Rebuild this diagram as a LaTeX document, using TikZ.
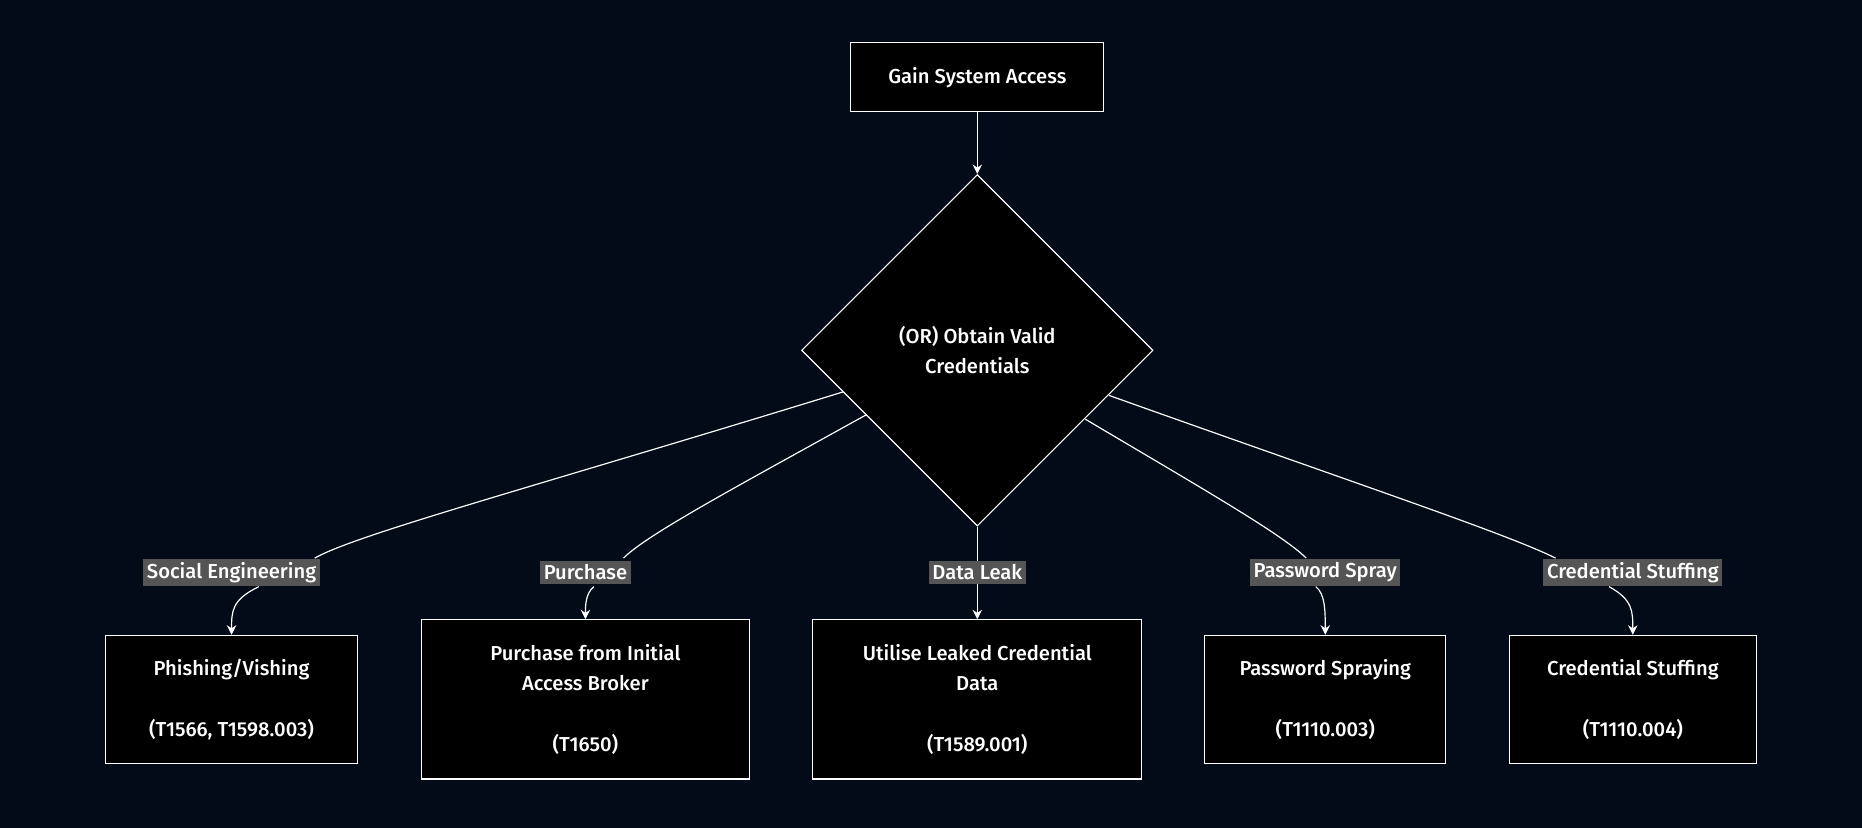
\documentclass[tikz,border=0pt]{standalone}
\usepackage{fontspec}
\setmainfont{Fira Sans}[UprightFont=* Medium]
\usetikzlibrary{shapes.geometric,arrows.meta}
\definecolor{bg}{HTML}{030A18}
\definecolor{lbl}{HTML}{555555}
\begin{document}
\begin{tikzpicture}[x=0.5pt,y=-0.5pt,
  every node/.style={font=\fontsize{8.5}{12.75}\selectfont,text=white},
  box/.style={draw=white,fill=black,line width=0.5pt,align=center,inner sep=0pt},
  lab/.style={fill=lbl,inner sep=1.5pt,text=white},
  e/.style={draw=white,line width=0.5pt},
  a/.style={e,-{Stealth[length=4pt,width=4pt]}}]
\fill[bg] (0,0) rectangle (1568,697);
\useasboundingbox (0,0) rectangle (1568,697);
\node[box,minimum width=106.5pt,minimum height=29pt] (top) at (823,65) {Gain System Access};
\node[box,diamond,minimum width=148pt,minimum height=148pt,aspect=1] (d) at (823,295) {(OR) Obtain Valid\\Credentials};
\node[box,minimum width=106pt,minimum height=54pt] (b1) at (195,589) {Phishing/Vishing\\[12.75pt](T1566, T1598.003)};
\node[box,minimum width=138pt,minimum height=67pt] (b2) at (493,589) {Purchase from Initial\\Access Broker\\[12.75pt](T1650)};
\node[box,minimum width=138.5pt,minimum height=67pt] (b3) at (823,589) {Utilise Leaked Credential\\Data\\[12.75pt](T1589.001)};
\node[box,minimum width=101.5pt,minimum height=54pt] (b4) at (1116,589) {Password Spraying\\[12.75pt](T1110.003)};
\node[box,minimum width=104pt,minimum height=54pt] (b5) at (1375,589) {Credential Stuffing\\[12.75pt](T1110.004)};
\node[lab] (l1) at (195,482) {Social Engineering};
\node[lab] (l2) at (493,482) {Purchase};
\node[lab] (l3) at (823,482) {Data Leak};
\node[lab] (l4) at (1116,482) {Password Spray};
\node[lab] (l5) at (1375,482) {Credential Stuffing};
\coordinate (s1) at (710,330);
\coordinate (s2) at (730,349);
\coordinate (s4) at (914,353);
\coordinate (s5) at (934,333);
\draw[a] (top) -- (d.north);
\draw[e] (s1) .. controls (450,410) and (300,450) .. (265,470);
\draw[a] (218,494) .. controls (195,505) and (195,515) .. (b1.north);
\draw[e] (s2) .. controls (620,410) and (545,450) .. (525,470);
\draw[a] (500,494) .. controls (493,500) and (493,510) .. (b2.north);
\draw[e] (d.south) -- (l3);
\draw[a] (l3) -- (b3.north);
\draw[e] (s4) .. controls (1010,410) and (1080,450) .. (1100,470);
\draw[a] (1108,494) .. controls (1116,500) and (1116,515) .. (b4.north);
\draw[e] (s5) .. controls (1150,410) and (1270,450) .. (1310,470);
\draw[a] (1355,494) .. controls (1375,505) and (1375,515) .. (b5.north);
\end{tikzpicture}
\end{document}
